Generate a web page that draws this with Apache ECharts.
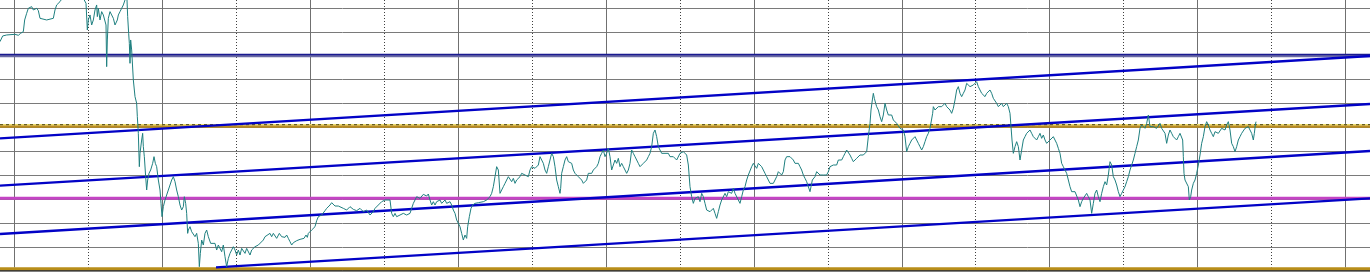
<!DOCTYPE html>
<html>
<head>
<meta charset="utf-8">
<script src="https://cdn.jsdelivr.net/npm/echarts@6/dist/echarts.min.js"></script>
<style>
html,body{margin:0;padding:0;background:#fff;}
#c{width:1370px;height:274px;}
</style>
</head>
<body>
<div id="c"></div>
<script>
// price path: [bar, price]
const price = [
[0,687],[8,704],[20,707],[45,709],[55,706],[62,712],[70,717],[74,752],[80,772],[85,787],[90,782],[95,792],[100,782],[110,787],[115,780],[120,757],[125,752],[140,752],[160,757],[165,782],[170,797],[180,807],[190,822],[220,832],[250,817],[255,812],[258,802],[262,722],[265,752],[270,767],[275,737],[280,752],[285,782],[290,797],[292,762],[295,787],[300,752],[305,777],[310,767],[315,772],[318,737],[320,612],[322,692],[325,757],[330,777],[335,767],[340,757],[345,737],[348,732],[352,752],[355,767],[360,777],[365,787],[370,797],[375,812],[378,822],[381,812],[383,762],[386,712],[388,682],[390,622],[392,692],[395,662],[400,572],[405,522],[410,502],[412,462],[415,412],[418,312],[420,352],[425,392],[428,412],[430,372],[433,342],[437,282],[440,242],[443,272],[447,292],[452,302],[458,322],[462,342],[466,322],[470,312],[475,272],[480,242],[483,202],[486,162],[490,192],[495,212],[500,227],[505,242],[510,257],[515,272],[520,282],[525,267],[530,242],[535,222],[540,197],[545,182],[550,192],[553,222],[557,202],[560,172],[563,112],[565,122],[570,132],[575,117],[580,122],[585,102],[590,112],[595,82],[598,12],[601,52],[605,92],[610,77],[615,112],[620,122],[625,102],[632,82],[638,77],[645,82],[650,62],[655,77],[660,72],[665,57],[670,77],[675,42],[680,12],[685,37],[690,52],[695,62],[700,72],[705,62],[710,47],[715,62],[720,47],[725,67],[730,62],[735,52],[740,67],[745,62],[750,47],[755,62],[760,67],[765,72],[770,67],[775,77],[780,72],[790,92],[795,102],[800,107],[810,112],[815,102],[820,112],[825,107],[830,97],[838,112],[845,102],[850,107],[855,100],[860,107],[865,97],[870,87],[875,77],[880,84],[890,90],[900,94],[905,98],[912,97],[918,107],[922,100],[925,112],[930,112],[935,122],[940,120],[945,132],[950,150],[955,162],[960,162],[965,167],[970,172],[975,180],[980,187],[985,192],[990,197],[995,204],[1000,202],[1005,194],[1010,190],[1015,194],
[1020,197],[1030,187],[1040,182],[1050,192],[1060,184],[1070,180],[1080,187],[1090,177],[1100,182],[1110,167],[1115,172],[1120,177],[1125,187],[1130,182],[1135,197],[1140,202],[1145,207],[1155,212],[1160,207],[1170,212],[1175,172],[1180,162],[1185,172],[1190,162],[1200,167],[1210,172],[1220,167],[1230,172],[1235,187],[1240,202],[1245,212],[1250,222],[1255,227],[1260,217],[1265,222],[1270,229],[1275,232],[1280,224],[1285,230],[1290,212],[1295,197],[1300,207],[1305,197],[1310,207],[1315,202],[1320,212],[1325,202],[1330,207],[1335,212],[1340,202],[1345,197],[1350,207],[1355,197],[1360,182],[1365,172],[1370,152],[1375,157],[1380,132],[1385,112],[1390,92],[1395,107],[1400,97],[1403,132],[1408,162],[1413,187],[1418,197],[1425,202],[1430,197],[1435,204],[1440,200],[1450,207],[1460,212],[1465,217],[1470,222],[1475,232],[1480,252],[1485,282],[1490,312],[1495,302],[1500,232],[1505,242],[1510,252],[1515,262],[1520,272],[1525,282],[1530,287],[1535,267],[1540,277],[1545,262],[1550,272],[1555,267],[1560,282],[1565,292],[1570,297],[1575,287],[1580,292],[1585,282],[1590,302],[1595,312],[1600,317],[1605,307],[1610,312],[1615,317],[1620,342],[1625,347],[1630,322],[1635,302],[1640,292],[1645,312],[1650,317],[1655,352],[1660,342],[1665,312],[1670,272],[1675,252],[1680,232],[1682,247],[1685,292],[1690,312],[1695,332],[1700,342],[1705,327],[1710,332],[1715,322],[1720,302],[1725,292],[1730,297],[1735,282],[1740,287],[1745,272],[1750,262],[1755,267],[1760,272],[1765,292],[1770,297],[1775,292],[1780,302],[1785,307],[1790,312],[1795,322],[1800,342],[1805,352],[1810,362],[1815,342],[1820,352],[1825,367],[1830,342],[1835,302],[1840,307],[1845,332],[1850,322],[1855,337],[1860,312],[1865,322],[1870,312],[1875,302],[1880,292],[1885,302],[1890,322],[1895,362],[1900,352],[1905,342],[1910,337],[1915,322],[1920,312],[1925,317],[1930,322],[1940,332],[1945,342],[1950,352],[1955,372],[1960,412],[1965,422],[1970,402],[1975,372],[1980,372],[1985,352],[1990,347],[1995,352],[2000,347],[2005,352],[2010,342],[2015,347],[2020,342],[2025,337],[2030,332],[2035,327],
[2040,352],[2045,347],[2050,357],[2055,352],[2060,347],[2065,317],[2070,252],[2075,222],[2080,202],[2085,217],[2090,212],[2095,222],[2100,207],[2105,232],[2110,222],[2115,202],[2120,182],[2125,187],[2130,177],[2135,182],[2140,187],[2145,172],[2150,157],[2155,177],[2160,197],[2165,212],[2170,217],[2175,232],[2180,222],[2185,237],[2190,242],[2195,232],[2200,247],[2205,232],[2210,237],[2215,212],[2220,202],[2225,222],[2230,242],[2235,252],[2240,272],[2245,287],[2250,292],[2255,312],[2260,322],[2265,317],[2270,307],[2275,322],[2280,327],[2285,312],[2290,302],[2295,292],[2300,282],[2305,272],[2310,262],[2315,257],[2320,262],[2325,272],[2330,282],[2335,297],[2340,292],[2345,287],[2350,297],[2355,332],[2360,342],[2365,337],[2370,342],[2375,337],[2380,332],[2385,322],[2390,317],[2395,322],[2400,312],[2405,302],[2410,287],[2415,277],[2420,267],[2425,262],[2430,237],[2433,252],[2437,272],[2440,267],[2445,282],[2450,297],[2455,292],[2460,287],[2465,292],[2470,287],[2475,292],[2480,287],[2485,297],[2490,312],[2495,307],[2500,317],[2505,322],[2510,317],[2515,332],[2520,337],[2525,332],[2530,342],[2535,352],[2540,362],[2545,357],[2550,347],[2555,337],[2560,327],[2565,332],[2570,337],[2575,342],[2580,347],[2585,352],[2590,347],[2595,352],[2600,357],[2605,402],[2610,442],[2613,482],[2617,512],[2620,532],[2623,517],[2627,502],[2630,492],[2635,482],[2640,462],[2645,447],[2650,467],[2655,502],[2660,482],[2665,467],[2670,472],[2675,467],[2680,452],[2685,447],[2690,442],[2695,437],[2700,427],[2705,432],[2710,422],[2715,402],[2720,357],[2725,372],[2730,382],[2735,392],[2740,397],[2745,402],[2750,392],[2755,382],[2760,372],[2765,362],[2770,372],[2775,387],[2780,402],[2785,412],[2790,427],[2795,432],[2798,472],[2800,492],[2805,482],[2810,487],[2815,492],[2820,487],[2825,492],[2830,497],[2835,502],[2840,492],[2845,487],[2850,482],[2855,472],[2860,487],[2865,512],[2870,542],[2875,552],[2880,532],[2885,522],[2890,532],[2895,542],[2900,562],[2905,567],[2910,552],[2915,547],[2920,557],[2925,562],[2930,567],[2935,552],[2940,542],[2945,532],[2950,527],[2955,522],[2960,532],[2965,537],[2970,542],[2975,532],[2980,517],[2985,512],[2990,502],[2995,492],[3000,497],[3005,502],[3010,492],[3015,497],[3020,502],[3025,492],[3030,472],[3033,432],[3036,392],[3040,352],[3045,372],[3050,387],[3055,372],
[3060,332],[3065,362],[3070,392],[3075,402],[3080,412],[3085,417],[3090,422],[3095,412],[3100,402],[3105,407],[3110,392],[3115,402],[3120,412],[3125,397],[3130,407],[3135,392],[3140,382],[3145,387],[3150,392],[3155,397],[3160,402],[3165,402],[3170,382],[3175,367],[3180,352],[3185,322],[3190,312],[3195,302],[3200,292],[3205,272],[3210,252],[3215,237],[3220,242],[3225,237],[3230,232],[3235,212],[3240,192],[3245,207],[3250,217],[3255,212],[3260,232],[3265,222],[3270,212],[3275,172],[3280,202],[3285,232],[3290,242],[3295,222],[3300,207],[3305,232],[3310,252],[3315,267],[3320,257],[3325,287],[3330,327],[3335,317],[3340,282],[3345,272],[3350,257],[3355,237],[3360,222],[3365,232],[3370,242],[3375,252],[3380,267],[3385,282],[3390,302],[3395,307],[3400,332],[3405,352],[3410,372],[3415,392],[3420,427],[3425,437],[3430,432],[3435,427],[3440,442],[3445,467],[3450,432],[3455,427],[3460,432],[3465,437],[3470,427],[3475,432],[3480,442],[3485,427],[3490,422],[3495,412],[3500,382],[3505,407],[3510,422],[3515,412],[3520,402],[3525,407],[3530,392],[3535,402],[3540,412],[3545,407],[3548,392],[3550,342],[3552,292],[3555,272],[3560,267],[3565,252],[3568,212],[3572,222],[3575,242],[3580,262],[3585,272],[3590,292],[3595,317],[3600,347],[3605,382],[3610,402],[3615,432],[3620,447],[3625,437],[3630,422],[3635,412],[3640,402],[3645,417],[3650,422],[3655,412],[3660,417],[3665,427],[3670,432],[3675,422],[3680,437],[3685,447],[3690,422],[3695,382],[3700,372],[3705,357],[3710,372],[3715,392],[3720,402],[3725,412],[3730,417],[3735,427],[3740,422],[3745,432],[3750,427],[3755,412],[3760,392],[3763,412],[3766,437],[3768,447]
];

// channel lines: [[bar, price], [bar, price]]
const channelA = [[0,397],[4110,644]];
const channelC = [[0,255],[4110,500]];
const channelD = [[0,110],[4110,359]];
const channelE = [[648,10],[4110,217]];

// horizontal levels
const levelNavy = 648.5;
const levelSlate = 643.4;
const levelGoldDash = 438;
const levelGold = 432.5;
const levelMagenta = 217.5;
const levelBottom = 5.5;

const xStart = 0, xEnd = 4110;
const priceMin = 0, priceMax = 787.6, priceStep = 71.6;
const timeDivisions = 9;

function hline(v, color, width, dash, z) {
  return {
    type: 'line', xAxisIndex: 0, yAxisIndex: 0,
    data: [[xStart, v], [xEnd, v]],
    symbol: 'none', silent: true, z: z,
    lineStyle: { color: color, width: width, type: dash || 'solid' },
    animation: false
  };
}
function chan(d) {
  return {
    type: 'line', xAxisIndex: 0, yAxisIndex: 0, data: d,
    symbol: 'none', silent: true, z: 4,
    lineStyle: { color: '#0202c6', width: 2.3 }, animation: false
  };
}

const chart = echarts.init(document.getElementById('c'), null, { renderer: 'canvas' });
chart.setOption({
  animation: false,
  backgroundColor: '#ffffff',
  grid: [
    { left: 0, right: 0, top: 8.1, bottom: 3.3 },
    { left: 14.7, right: 24.7, top: 0, bottom: 6.5 }
  ],
  xAxis: [
    { type: 'value', gridIndex: 0, min: xStart, max: xEnd, show: false },
    { type: 'value', gridIndex: 1, min: 0, max: timeDivisions, interval: 1,
      axisLine: { show: false }, axisTick: { show: false }, axisLabel: { show: false },
      splitLine: { show: true, lineStyle: { color: '#707070', width: 1 } },
      minorTick: { show: false, splitNumber: 2 },
      minorSplitLine: { show: true, lineStyle: { color: '#404040', width: 1, type: [1, 2] } }
    }
  ],
  yAxis: [
    { type: 'value', gridIndex: 0, min: priceMin, max: priceMax, interval: priceStep,
      axisLine: { show: false }, axisTick: { show: false }, axisLabel: { show: false },
      splitLine: { show: true, lineStyle: { color: '#7a7a7a', width: 1 } }
    },
    { type: 'value', gridIndex: 1, min: 0, max: 1, show: false }
  ],
  graphic: [
    { type: 'rect', shape: { x: 0, y: 270.4, width: 1370, height: 1.2 }, style: { fill: '#000' }, z: 10 }
  ],
  series: [
    hline(levelSlate, '#6a6aa6', 2.2, null, 3),
    hline(levelNavy, '#1a1a90', 1.4, null, 3),
    hline(levelGold, '#bb8c1e', 2.4, null, 3),
    hline(levelGoldDash, '#ecdc6a', 1.2, null, 3),
    hline(levelGoldDash, '#5a5018', 1.1, [3, 3], 3),
    hline(levelMagenta, '#c444c4', 3, null, 3),
    hline(levelBottom, '#b88e1a', 3, null, 3),
    chan(channelA), chan(channelC), chan(channelD), chan(channelE),
    {
      type: 'line', xAxisIndex: 0, yAxisIndex: 0, data: price,
      symbol: 'none', clip: false, z: 6,
      lineStyle: { color: '#1f8080', width: 1 }, animation: false
    }
  ]
});
</script>
</body>
</html>
